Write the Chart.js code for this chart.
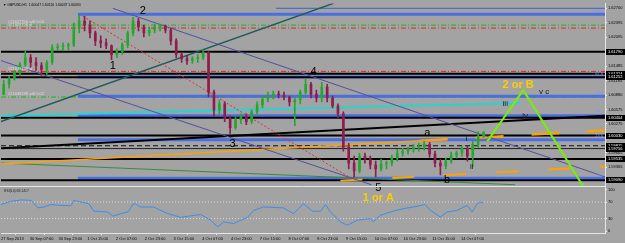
<!DOCTYPE html>
<html><head><meta charset="utf-8">
<script src="https://cdn.jsdelivr.net/npm/chart.js@4.4.1/dist/chart.umd.min.js"></script>
<style>html,body{margin:0;padding:0;background:#a3a3a3;overflow:hidden}canvas{display:block}</style>
</head><body>
<canvas id="c" width="625" height="243"></canvas>
<script>
// ---------- DATA (GBPUSD H1, 3-hour candles) ----------
const open = [1.60900,1.61107,1.61231,1.61355,1.61521,1.61665,1.61562,1.61500,1.61417,1.61562,
1.61872,1.61893,1.61914,1.61934,1.62286,1.62431,1.62348,1.62183,1.62017,1.61976,
1.61914,1.61728,1.61790,1.61934,1.62183,1.62431,1.62307,1.62183,1.62245,1.62307,
1.62327,1.62245,1.62017,1.61728,1.61645,1.61603,1.61645,1.61665,1.61769,1.60942,
1.60569,1.60693,1.60383,1.60197,1.60362,1.60425,1.60321,1.60528,1.60673,1.60797,
1.60859,1.60900,1.60880,1.60838,1.60735,1.60776,1.60942,1.61107,1.60900,1.60817,
1.61045,1.60817,1.60652,1.60487,1.59783,1.59452,1.59287,1.59597,1.59535,1.59411,
1.59328,1.59432,1.59452,1.59556,1.59659,1.59701,1.59742,1.59783,1.59804,1.59845,
1.59639,1.59452,1.59390,1.59494,1.59618,1.59659,1.59763,1.59597,1.59845,1.60011];
const high = [1.61190,1.61273,1.61397,1.61562,1.61810,1.61728,1.61665,1.61562,1.61603,1.61934,
1.61955,1.61976,1.61976,1.62389,1.62555,1.62534,1.62431,1.62224,1.62121,1.62058,
1.61934,1.61852,1.61976,1.62224,1.62513,1.62493,1.62348,1.62307,1.62369,1.62369,
1.62348,1.62286,1.62058,1.61769,1.61707,1.61686,1.61728,1.61831,1.61790,1.60983,
1.60776,1.60735,1.60445,1.60425,1.60487,1.60487,1.60569,1.60735,1.60859,1.60942,
1.60962,1.60962,1.60942,1.60859,1.60817,1.60983,1.61210,1.61148,1.60983,1.61148,
1.61107,1.60859,1.60693,1.60528,1.59866,1.59597,1.59659,1.59659,1.59597,1.59494,
1.59535,1.59494,1.59618,1.59742,1.59763,1.59783,1.59845,1.59866,1.59907,1.59887,
1.59701,1.59535,1.59556,1.59680,1.59701,1.59804,1.59804,1.59907,1.60114,1.60120];
const low = [1.60880,1.61024,1.61190,1.61293,1.61479,1.61459,1.61397,1.61293,1.61314,1.61521,
1.61810,1.61810,1.61831,1.61893,1.62183,1.62224,1.62079,1.61914,1.61872,1.61852,
1.61624,1.61665,1.61728,1.61872,1.62121,1.62224,1.62100,1.62121,1.62183,1.62224,
1.62183,1.61934,1.61665,1.61562,1.61521,1.61541,1.61562,1.61624,1.60838,1.60425,
1.60487,1.60321,1.60073,1.60156,1.60280,1.60259,1.60280,1.60487,1.60611,1.60735,
1.60797,1.60817,1.60776,1.60652,1.60238,1.60693,1.60900,1.60817,1.60735,1.60735,
1.60735,1.60611,1.60404,1.59701,1.59328,1.59163,1.59246,1.59452,1.59328,1.59163,
1.59287,1.59328,1.59390,1.59494,1.59597,1.59639,1.59680,1.59701,1.59721,1.59577,
1.59370,1.59204,1.59328,1.59452,1.59556,1.59597,1.59494,1.59370,1.59783,1.59990];
const close = [1.61107,1.61231,1.61355,1.61521,1.61665,1.61562,1.61500,1.61417,1.61562,1.61872,
1.61893,1.61914,1.61934,1.62286,1.62431,1.62348,1.62183,1.62017,1.61976,1.61914,
1.61728,1.61790,1.61934,1.62183,1.62431,1.62307,1.62183,1.62245,1.62307,1.62327,
1.62245,1.62017,1.61728,1.61645,1.61603,1.61645,1.61665,1.61769,1.60942,1.60569,
1.60693,1.60383,1.60197,1.60362,1.60425,1.60321,1.60528,1.60673,1.60797,1.60859,
1.60900,1.60880,1.60838,1.60735,1.60776,1.60942,1.61107,1.60900,1.60817,1.61045,
1.60817,1.60652,1.60487,1.59783,1.59452,1.59287,1.59597,1.59535,1.59411,1.59328,
1.59432,1.59452,1.59556,1.59659,1.59701,1.59742,1.59783,1.59804,1.59845,1.59639,
1.59452,1.59390,1.59494,1.59618,1.59659,1.59763,1.59597,1.59845,1.60011,1.60090];

const rsiHours = [0,5.6,11.1,16.7,20.6,23.9,27.8,33.3,38.9,40.6,44.4,48.9,51.7,59.4,62.2,66.7,70.6,73.9,77.8,85,92.8,100,111.1,116.7,120.6,123.9,129.4,137.2,140.6,146.1,157.2,162.8,168.3,173.3,177.8,180.6,183.3,188.9,192.8,198.3,205.6,207.2,211.1,216.7,223.9,229.4,236.1,238.9,244.4,248.3,253.9,259.4,262.2,265,266.7,268.3];
const rsiValues = [64,72,75,74,56,58,64,62,61,74,70,66,48,46,36,42,46,67,58,58,42,33,40,26,10,22,18,33,50,58,56,42,66,48,48,64,46,22,14,26,30,22,38,46,54,58,64,50,34,46,50,62,46,66,70,68.14];
const rsiLevels = [70,30];
const rsiTicks = [100,70,30,0];

const xTickHours = [0,16,32,48,64,80,96,112,128,144,160,176,192,208,224,240,256];
const xTickLabels = ['27 Sep 2013','30 Sep 07:00','30 Sep 23:00','1 Oct 15:00','2 Oct 07:00','2 Oct 23:00','3 Oct 15:00','4 Oct 07:00','4 Oct 23:00','7 Oct 15:00','8 Oct 07:00','8 Oct 23:00','9 Oct 15:00','10 Oct 07:00','10 Oct 23:00','11 Oct 15:00','14 Oct 07:00'];
const priceTicks = [1.62700,1.62395,1.62095,1.61790,1.61485,1.61185,1.60880,1.60575,1.60275,1.59970,1.59665,1.59365,1.59060];

// horizontal levels
const blackLevels = [1.61790,1.61324,1.61252,1.60404,1.60030,1.59535,1.59090];
const blackDashed = [1.59815];
const blackThin = [1.59756];
const greenDashDot = [1.62348,1.60838];
const redDashDot = [1.62286,1.61376];
const fibLevels = [1.62576,1.61260,1.60854,1.60447,1.59944,1.59131];
const fibNames = ['100.0','61.8','50.0','38.2','23.6','0.0'];
const boxLevels = [1.61790,1.61324,1.61252,1.60404,1.60030,1.59815,1.59756,1.59535,1.59090];

// trend lines (hour, price)
const redDotted = [{x:45.6,y:1.62534},{x:194.4,y:1.59142}];
const tealLine = [{x:0,y:1.60321},{x:185,y:1.62803}];
const slateLine1 = [{x:0,y:1.61603},{x:206.1,y:1.58997}];
const slateLine2 = [{x:62.2,y:1.62700},{x:336.1,y:1.59163}];
const blackTrend = [{x:0,y:1.59763},{x:336.1,y:1.60445}];
const cyanLine = [{x:0,y:1.60445},{x:288.9,y:1.60714}];
const orangeUpperLeft = [{x:0,y:1.59432},{x:233,y:1.59920}];
const orangeUpperRight = [{x:233,y:1.59920},{x:336.1,y:1.60135}];
const orangeLower = [{x:188.9,y:1.59080},{x:336.1,y:1.59380}];
const greenDown = [{x:0,y:1.59452},{x:286.1,y:1.58997}];
const projection = [{x:270.6,y:1.59907},{x:290.6,y:1.60983},{x:333.3,y:1.58398}];
const topLine = [{x:153,y:1.62700},{x:336.1,y:1.62700}];

// labels
const waveText = ['1','2','3','4','5','a','b'];
const waveX = [62.2,78.9,128.9,173.9,210,237.2,248.2];
const waveY = [1.61500,1.62638,1.59845,1.61355,1.58935,1.60094,1.59101];
const minorText = ['i','ii','iii','iv','v c'];
const minorX = [258.9,262,280.6,291.7,302.2];
const minorY = [1.59969,1.59369,1.60693,1.60445,1.60941];
const goldText = ['1 or A','2 or B'];
const goldX = [210,287.8];
const goldY = [1.58728,1.61086];
const orderText = ['#21627756 sell 0.04','#21627756 sl','#21638198 sl','#21638198 sell 0.02'];
const orderY = [1.62348,1.62286,1.61376,1.60838];
const headerText = '\u25BC GBPUSD,H1  1.60047 1.60120 1.60037 1.60090';
const rsiText = 'RSI(14) 68.1417';

// ---------- CHART ----------
const FONT = '"Liberation Sans", Arial, sans-serif';
Chart.defaults.font.family = FONT;
const BULL = '#24a82c', BEAR = '#8f1d4c';
const candleX = open.map((o,i)=>3*i+1.5);
const candleColor = c => close[c.dataIndex] >= open[c.dataIndex] ? BULL : BEAR;

function line(points, color, width, dash, order, axis){
  return {type:'line', data:points, borderColor:color, borderWidth:width, borderDash:dash||[],
    pointRadius:0, tension:0, yAxisID:axis||'y', xAxisID:'x', order:order||3, spanGaps:true};
}
function hline(p, x0, color, width, dash, order){
  return line([{x:x0,y:p},{x:336.1,y:p}], color, width, dash, order);
}

const datasets = [];
datasets.push({type:'bar', data: candleX.map((x,i)=>({x, y:[low[i],high[i]]})), backgroundColor:candleColor,
  barThickness:1, grouped:false, yAxisID:'y', xAxisID:'x', order:1});
datasets.push({type:'bar', data: candleX.map((x,i)=>({x, y:[open[i],close[i]]})), backgroundColor:candleColor,
  barThickness:2, grouped:false, yAxisID:'y', xAxisID:'x', order:0});
greenDashDot.forEach(p=>datasets.push(hline(p,0,'#10c010',1,[5,2,1,2],6)));
redDashDot.forEach(p=>datasets.push(hline(p,0,'#e02828',1,[5,2,1,2],6)));
fibLevels.forEach(p=>datasets.push(hline(p,42.8,'#4a6ee0',3,[],5)));
blackLevels.forEach(p=>datasets.push(hline(p,0,'#000000',2,[],4)));
blackDashed.forEach(p=>datasets.push(hline(p,0,'#111111',1,[5,3],4)));
blackThin.forEach(p=>datasets.push(hline(p,0,'#222222',1,[],4)));
datasets.push(line(topLine,'#4060d8',1,[],6));
datasets.push(line(redDotted,'#e03030',1,[2,2],3));
datasets.push(line(tealLine,'#1f5a5a',1.5,[],3));
datasets.push(line(slateLine1,'#52529e',1,[],3));
datasets.push(line(slateLine2,'#52529e',1,[],3));
datasets.push(line(cyanLine,'#26d4d4',2,[],3));
datasets.push(line(blackTrend,'#000000',2,[],3));
datasets.push(line(orangeUpperLeft,'#ffa200',1.5,[],3));
datasets.push(line(orangeUpperRight,'#ffa200',2.5,[28,28],3));
datasets.push(line(orangeLower,'#ffa200',2,[22,30],3));
datasets.push(line(greenDown,'#3a8c3a',1,[],3));
datasets.push(line(projection,'#77f000',2,[],2));
rsiLevels.forEach(v=>datasets.push(line([{x:0,y:v},{x:336.1,y:v}],'#d8d8d8',1,[1,2],5,'yr')));
datasets.push(line(rsiHours.map((h,i)=>({x:h,y:rsiValues[i]})),'#3d8ee6',1,[],2,'yr'));

const bgPlugin = {id:'bg', beforeDraw(chart){const c=chart.ctx;c.save();c.fillStyle='#a3a3a3';c.fillRect(0,0,chart.width,chart.height);c.restore();}};

const textPlugin = {id:'texts', afterDatasetsDraw(chart){
  const {ctx, scales:{x,y,yr}} = chart;
  ctx.save();
  ctx.textAlign='center'; ctx.textBaseline='middle';
  ctx.fillStyle='#000'; ctx.font='11px '+FONT;
  waveText.forEach((t,i)=>ctx.fillText(t, x.getPixelForValue(waveX[i]), y.getPixelForValue(waveY[i])));
  ctx.fillStyle='#1a1a1a'; ctx.font='8px '+FONT;
  minorText.forEach((t,i)=>ctx.fillText(t, x.getPixelForValue(minorX[i]), y.getPixelForValue(minorY[i])));
  ctx.fillStyle='#ffcc00'; ctx.font='bold 11px '+FONT;
  goldText.forEach((t,i)=>ctx.fillText(t, x.getPixelForValue(goldX[i]), y.getPixelForValue(goldY[i])));
  ctx.textAlign='left'; ctx.textBaseline='bottom'; ctx.fillStyle='#dcdcdc'; ctx.font='4px '+FONT;
  orderText.forEach((t,i)=>ctx.fillText(t, 8, y.getPixelForValue(orderY[i])-1));
  ctx.textAlign='right'; ctx.fillStyle='#7d97ff'; ctx.font='4px '+FONT;
  fibLevels.forEach((p,i)=>ctx.fillText(fibNames[i], x.right-2, y.getPixelForValue(p)-1.5));
  ctx.textAlign='left'; ctx.textBaseline='middle'; ctx.fillStyle='#000'; ctx.font='3.4px '+FONT;
  ctx.fillText(headerText, 3, 5);
  ctx.fillStyle='#222'; ctx.fillText(rsiText, 4, yr.top+5);
  ctx.restore();
}, afterDraw(chart){
  const {ctx, scales:{x,y,yr}} = chart;
  ctx.save();
  ctx.strokeStyle='#e8e8e8'; ctx.lineWidth=1;
  ctx.beginPath(); ctx.moveTo(0, Math.round(yr.top)+0.5); ctx.lineTo(x.right, Math.round(yr.top)+0.5); ctx.stroke();
  ctx.font='4px '+FONT; ctx.textAlign='left'; ctx.textBaseline='middle';
  boxLevels.forEach(p=>{
    const py=Math.round(y.getPixelForValue(p));
    ctx.fillStyle='#000'; ctx.fillRect(x.right+1, py-3, 19, 6);
    ctx.fillStyle='#fff'; ctx.fillText(p.toFixed(5), x.right+3, py);
  });
  ctx.restore();
}};

new Chart(document.getElementById('c'), {
  type:'bar',
  data:{datasets},
  options:{
    responsive:false, animation:false, events:[],
    layout:{padding:0},
    plugins:{legend:{display:false}, tooltip:{enabled:false}},
    scales:{
      x:{type:'linear', min:0, max:336.1, offset:false, position:'bottom',
        afterFit(s){s.height=10;},
        afterBuildTicks(s){s.ticks = xTickHours.map(v=>({value:v}));},
        ticks:{callback:(v,i)=>xTickLabels[i], font:{size:4}, color:'#000', align:'start', padding:1, autoSkip:false, maxRotation:0, minRotation:0},
        grid:{drawOnChartArea:false, tickLength:2, color:'#e6e6e6'}, border:{color:'#e6e6e6'}},
      y:{type:'linear', position:'right', stack:'pane', stackWeight:185, min:1.58977, max:1.62803,
        afterFit(s){s.width=20;},
        afterBuildTicks(s){s.ticks = priceTicks.map(v=>({value:v}));},
        ticks:{callback:v=>v.toFixed(5), font:{size:4}, color:'#000', padding:1, autoSkip:false},
        grid:{drawOnChartArea:false, tickLength:2, color:'#e6e6e6'}, border:{color:'#e6e6e6'}},
      yr:{type:'linear', position:'right', stack:'pane', stackWeight:48, min:-4.8, max:109.5,
        afterFit(s){s.width=20;},
        afterBuildTicks(s){s.ticks = rsiTicks.map(v=>({value:v}));},
        ticks:{callback:v=>String(v), font:{size:4}, color:'#000', padding:1, autoSkip:false},
        grid:{drawOnChartArea:false, tickLength:2, color:'#e6e6e6'}, border:{color:'#e6e6e6'}}
    }
  },
  plugins:[bgPlugin, textPlugin]
});
</script></body></html>
